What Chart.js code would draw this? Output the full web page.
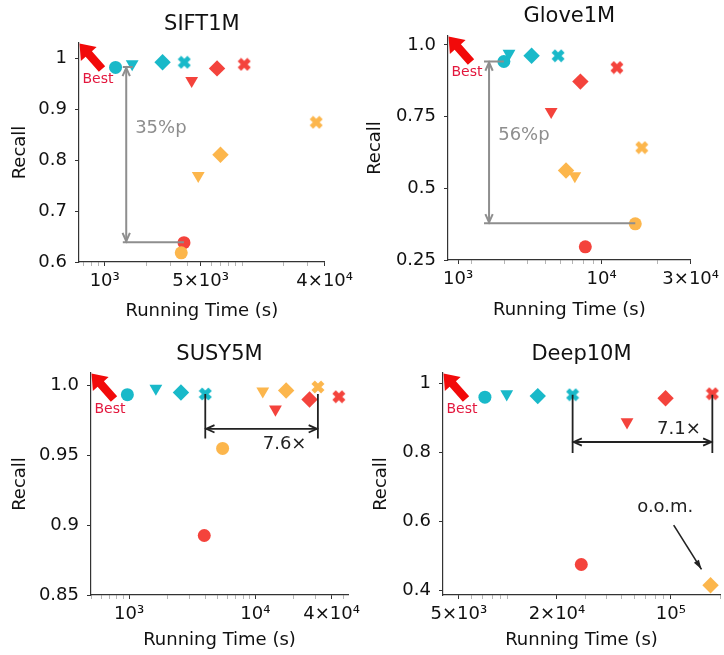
<!DOCTYPE html>
<html>
<head>
<meta charset="utf-8">
<script src="https://cdn.jsdelivr.net/npm/chart.js@4.4.1/dist/chart.umd.min.js"></script>
<style>
html, body { margin:0; padding:0; background:#fff; overflow:hidden; }
#wrap { position:relative; width:724px; height:655px; overflow:hidden; }
#wrap canvas { position:absolute; }
</style>
</head>
<body>
<div id="wrap">
  <canvas id="c1"></canvas>
  <canvas id="c2"></canvas>
  <canvas id="c3"></canvas>
  <canvas id="c4"></canvas>
</div>
<script>
/* ====== data ====== */
// series order: cyan, red, orange / point order: circle, triangle, diamond, X
const colors = ['#19b9c9', '#f4433c', '#fcb64c'];
const shapes = ['circle', 'triangle', 'diamond', 'x'];

const siftTime    = [[1200, 1585, 2640, 3800], [3780, 4300, 6580, 10380], [3610, 4800, 6970, 34700]];
const siftRecall  = [[0.983, 0.990, 0.993, 0.993], [0.638, 0.957, 0.981, 0.989], [0.618, 0.770, 0.811, 0.875]];
const gloveTime   = [[2990, 3185, 4210, 5840], [8170, 5360, 7690, 12070], [15140, 7180, 6440, 16400]];
const gloveRecall = [[0.942, 0.970, 0.962, 0.962], [0.296, 0.767, 0.872, 0.921], [0.376, 0.543, 0.562, 0.642]];
const susyTime    = [[970, 1630, 2575, 4010], [3936, 14400, 26800, 45700], [5500, 11430, 17500, 31200]];
const susyRecall  = [[0.9935, 0.998, 0.995, 0.994], [0.8926, 0.983, 0.990, 0.992], [0.955, 0.996, 0.9965, 0.999]];
const deepTime    = [[7230, 9840, 15250, 24950], [28200, 53800, 92700, 179500], [null, null, 175000, null]];
const deepRecall  = [[0.961, 0.970, 0.964, 0.968], [0.476, 0.889, 0.958, 0.971], [null, null, 0.416, null]];

// x ticks (all) and labelled ones
const siftXTicks   = [700, 800, 900, 1000, 2000, 3000, 4000, 5000, 6000, 7000, 8000, 9000, 10000, 20000, 30000, 40000];
const siftXMajor   = [1000, 5000, 40000];
const siftXLabels  = ['10³', '5×10³', '4×10⁴'];
const gloveXTicks  = [1700, 2000, 3000, 4000, 5000, 6000, 7000, 8000, 9000, 10000, 20000, 30000];
const gloveXMajor  = [1700, 10000, 30000];
const gloveXLabels = ['10³', '10⁴', '3×10⁴'];
const susyXTicks   = [500, 600, 700, 800, 900, 1000, 2000, 3000, 4000, 5000, 6000, 7000, 8000, 9000, 10000, 20000, 30000, 40000, 50000];
const susyXMajor   = [1000, 10000, 40000];
const susyXLabels  = ['10³', '10⁴', '4×10⁴'];
const deepXTicks   = [5000, 6000, 7000, 8000, 9000, 10000, 20000, 30000, 40000, 50000, 60000, 70000, 80000, 90000, 100000, 200000];
const deepXMajor   = [5000, 20000, 100000];
const deepXLabels  = ['5×10³', '2×10⁴', '10⁵'];

// y ticks
const siftYTicks  = [0.6, 0.7, 0.8, 0.9, 1.0];
const siftYLabels = ['0.6', '0.7', '0.8', '0.9', '1'];
const gloveYTicks  = [0.25, 0.5, 0.75, 1.0];
const gloveYLabels = ['0.25', '0.5', '0.75', '1.0'];
const susyYTicks  = [0.85, 0.9, 0.95, 1.0];
const susyYLabels = ['0.85', '0.9', '0.95', '1.0'];
const deepYTicks  = [0.4, 0.6, 0.8, 1.0];
const deepYLabels = ['0.4', '0.6', '0.8', '1'];

// annotations (data coords)
const siftGap  = { x: 1435, xFrom: 1355, top: 0.984, topTo: 1600, bottom: 0.639, bottomTo: 3780, text: '35%p', tx: 2566, ty: 0.863 };
const gloveGap = { x: 2490, xFrom: 2340, top: 0.942, topTo: 2990, bottom: 0.378, bottomTo: 15140, text: '56%p', tx: 3830, ty: 0.686 };
const susySpeed = { x0: 4010, x1: 31200, yTop: 0.994, yBot: 0.962, yArrow: 0.969, text: '7.6×', tx: 17000, ty: 0.958 };
const deepSpeed = { x0: 24950, x1: 179500, yTop: 0.968, yBot: 0.799, yArrow: 0.831, text: '7.1×', tx: 112000, ty: 0.867 };
const deepOom   = { text: 'o.o.m.', tx: 92300, ty: 0.642, x0: 104000, y0: 0.59, x1: 154000, y1: 0.462 };

/* ====== helpers ====== */
Chart.defaults.font.family = '"DejaVu Sans", sans-serif';
Chart.defaults.color = '#111';

function xMarker(color) {
  const c = document.createElement('canvas');
  c.width = 14; c.height = 14;
  const g = c.getContext('2d');
  g.strokeStyle = color; g.lineWidth = 4.8; g.lineCap = 'butt';
  g.beginPath(); g.moveTo(2.2, 2.2); g.lineTo(11.8, 11.8); g.moveTo(11.8, 2.2); g.lineTo(2.2, 11.8); g.stroke();
  return c;
}
const xImgs = colors.map(xMarker);

function buildDatasets(times, recalls) {
  return times.map((row, si) => {
    const pts = [];
    row.forEach((t, pi) => { if (t != null) pts.push({ x: t, y: recalls[si][pi], s: shapes[pi] }); });
    return {
      label: 'series' + si,
      data: pts,
      order: 2 - si,
      backgroundColor: colors[si],
      borderColor: colors[si],
      borderWidth: 0,
      pointStyle: c => { const s = c.raw && c.raw.s; return s === 'x' ? xImgs[si] : s === 'diamond' ? 'rectRot' : s; },
      rotation: c => (c.raw && c.raw.s === 'triangle') ? 180 : 0,
      pointRadius: c => { const s = c.raw && c.raw.s; return s === 'circle' ? 6.5 : s === 'diamond' ? 8.2 : 7.4; },
      pointHoverRadius: 8
    };
  });
}

function openHead(g, x, y, ang, len) {
  g.beginPath();
  g.moveTo(x + len * Math.cos(ang + 0.42), y + len * Math.sin(ang + 0.42));
  g.lineTo(x, y);
  g.lineTo(x + len * Math.cos(ang - 0.42), y + len * Math.sin(ang - 0.42));
  g.stroke();
}

function bestArrow(chart) {
  const g = chart.ctx, a = chart.chartArea;
  const tip = { x: a.left + 0.5, y: a.top + 0.5 }, tail = { x: a.left + 23, y: a.top + 26 };
  const dx = tip.x - tail.x, dy = tip.y - tail.y, L = Math.hypot(dx, dy);
  const ux = dx / L, uy = dy / L, nx = -uy, ny = ux;
  const sw = 4.2, hw = 10.5, hl = 14;
  const nk = { x: tip.x - ux * hl, y: tip.y - uy * hl };
  g.save();
  g.fillStyle = '#f20a0a';
  g.beginPath();
  g.moveTo(tail.x + nx * sw, tail.y + ny * sw);
  g.lineTo(nk.x + nx * sw, nk.y + ny * sw);
  g.lineTo(nk.x + nx * hw, nk.y + ny * hw);
  g.lineTo(tip.x, tip.y);
  g.lineTo(nk.x - nx * hw, nk.y - ny * hw);
  g.lineTo(nk.x - nx * sw, nk.y - ny * sw);
  g.lineTo(tail.x - nx * sw, tail.y - ny * sw);
  g.closePath(); g.fill();
  g.fillStyle = '#e3173d';
  g.font = '14px "DejaVu Sans"';
  g.textAlign = 'center'; g.textBaseline = 'middle';
  g.fillText('Best', a.left + 19, a.top + 36);
  g.restore();
}

function gapAnno(gap) {
  return (chart) => {
    const g = chart.ctx, xs = chart.scales.x, ys = chart.scales.y;
    const X = xs.getPixelForValue(gap.x), X0 = xs.getPixelForValue(gap.xFrom);
    const Yt = ys.getPixelForValue(gap.top), Yb = ys.getPixelForValue(gap.bottom);
    g.save();
    g.strokeStyle = '#8e8e8e'; g.lineWidth = 2;
    g.beginPath();
    g.moveTo(X0, Yt); g.lineTo(xs.getPixelForValue(gap.topTo), Yt);
    g.moveTo(X0, Yb); g.lineTo(xs.getPixelForValue(gap.bottomTo), Yb);
    g.moveTo(X, Yt + 1); g.lineTo(X, Yb - 1);
    g.stroke();
    openHead(g, X, Yt + 1, Math.PI / 2, 9);
    openHead(g, X, Yb - 1, -Math.PI / 2, 9);
    g.fillStyle = '#8e8e8e';
    g.font = '18px "DejaVu Sans"';
    g.textAlign = 'center'; g.textBaseline = 'middle';
    g.fillText(gap.text, xs.getPixelForValue(gap.tx), ys.getPixelForValue(gap.ty));
    g.restore();
  };
}

function speedAnno(sp, oom) {
  return (chart) => {
    const g = chart.ctx, xs = chart.scales.x, ys = chart.scales.y;
    const X0 = xs.getPixelForValue(sp.x0), X1 = xs.getPixelForValue(sp.x1);
    const Yt = ys.getPixelForValue(sp.yTop), Yb = ys.getPixelForValue(sp.yBot), Ya = ys.getPixelForValue(sp.yArrow);
    g.save();
    g.strokeStyle = '#222'; g.lineWidth = 1.8;
    g.beginPath();
    g.moveTo(X0, Yt); g.lineTo(X0, Yb);
    g.moveTo(X1, Yt); g.lineTo(X1, Yb);
    g.moveTo(X0 + 1, Ya); g.lineTo(X1 - 1, Ya);
    g.stroke();
    openHead(g, X0 + 1, Ya, 0, 9);
    openHead(g, X1 - 1, Ya, Math.PI, 9);
    g.fillStyle = '#222';
    g.font = '18px "DejaVu Sans"';
    g.textAlign = 'center'; g.textBaseline = 'middle';
    g.fillText(sp.text, xs.getPixelForValue(sp.tx), ys.getPixelForValue(sp.ty));
    if (oom) {
      g.fillText(oom.text, xs.getPixelForValue(oom.tx), ys.getPixelForValue(oom.ty));
      const ax = xs.getPixelForValue(oom.x0), ay = ys.getPixelForValue(oom.y0);
      const bx = xs.getPixelForValue(oom.x1), by = ys.getPixelForValue(oom.y1);
      g.lineWidth = 1.6;
      g.beginPath(); g.moveTo(ax, ay); g.lineTo(bx, by); g.stroke();
      const ang = Math.atan2(ay - by, ax - bx);
      g.beginPath();
      g.moveTo(bx, by);
      g.lineTo(bx + 10 * Math.cos(ang + 0.3), by + 10 * Math.sin(ang + 0.3));
      g.lineTo(bx + 10 * Math.cos(ang - 0.3), by + 10 * Math.sin(ang - 0.3));
      g.closePath(); g.fill();
    }
    g.restore();
  };
}

/* ====== panel builder ====== */
function makePanel(id, p) {
  const canvas = document.getElementById(id);
  const W = p.R - p.a + p.padR;
  canvas.width = W; canvas.height = p.H;
  canvas.style.left = p.a + 'px'; canvas.style.top = p.top + 'px';
  const tPadTop = p.titleY - p.top - 12.6;
  const tPadBot = (p.T - p.top) - tPadTop - 25.2;

  new Chart(canvas.getContext('2d'), {
    type: 'scatter',
    data: { datasets: buildDatasets(p.times, p.recalls) },
    options: {
      responsive: false,
      animation: false,
      layout: { padding: { left: 0, right: p.padR, top: 0, bottom: 0 } },
      scales: {
        x: {
          type: 'logarithmic',
          min: p.xmin, max: p.xmax,
          afterBuildTicks: s => { s.ticks = p.xTicks.map(v => ({ value: v })); },
          afterFit: s => { s.height = p.top + p.H - p.B; },
          ticks: {
            autoSkip: false, maxRotation: 0, padding: 5, color: '#111',
            font: { size: 18 },
            callback: v => { const i = p.xMajor.indexOf(v); return i >= 0 ? p.xLabels[i] : ''; }
          },
          grid: {
            drawOnChartArea: false, drawTicks: true, tickLength: 4,
            tickColor: c => (c.tick && p.xMajor.includes(c.tick.value)) ? '#333' : '#b5b5b5'
          },
          border: { display: true, color: '#333', width: 1.2 },
          title: { display: true, text: 'Running Time (s)', font: { size: 18 }, color: '#111', padding: { top: 0, bottom: p.xTitlePad } }
        },
        y: {
          min: p.ymin, max: p.ymax,
          afterBuildTicks: s => { s.ticks = p.yTicks.map(v => ({ value: v })); },
          afterFit: s => { s.width = p.L - p.a; },
          ticks: {
            padding: 8, color: '#111', font: { size: 18 },
            callback: v => { const i = p.yTicks.findIndex(t => Math.abs(t - v) < 1e-9); return i >= 0 ? p.yLabels[i] : ''; }
          },
          grid: { drawOnChartArea: false, drawTicks: true, tickLength: 4, tickColor: '#333' },
          border: { display: true, color: '#333', width: 1.2 },
          title: { display: true, text: 'Recall', font: { size: 18 }, color: '#111', padding: { top: p.ylabX - p.a - 10.8, bottom: 0 } }
        }
      },
      plugins: {
        legend: { display: false },
        tooltip: { enabled: false },
        title: {
          display: true, text: p.title, color: '#111', fullSize: false,
          font: { size: 21, weight: 'normal' },
          padding: { top: tPadTop, bottom: tPadBot }
        }
      }
    },
    plugins: [{
      id: 'anno' + id,
      afterDatasetsDraw: chart => { p.anno(chart); bestArrow(chart); }
    }]
  });
}

makePanel('c1', {
  title: 'SIFT1M', a: 0, top: 0, H: 330, L: 79, R: 328, T: 43, B: 262, padR: 30, titleY: 25, ylabX: 20, xTitlePad: 7.5,
  xmin: 650, xmax: 40000, ymin: 0.6, ymax: 1.031,
  times: siftTime, recalls: siftRecall,
  xTicks: siftXTicks, xMajor: siftXMajor, xLabels: siftXLabels,
  yTicks: siftYTicks, yLabels: siftYLabels,
  anno: gapAnno(siftGap)
});
makePanel('c2', {
  title: 'Glove1M', a: 362, top: 0, H: 330, L: 448, R: 691, T: 36, B: 260, padR: 33, titleY: 16.7, ylabX: 375, xTitlePad: 9,
  xmin: 1500, xmax: 30000, ymin: 0.25, ymax: 1.031,
  times: gloveTime, recalls: gloveRecall,
  xTicks: gloveXTicks, xMajor: gloveXMajor, xLabels: gloveXLabels,
  yTicks: gloveYTicks, yLabels: gloveYLabels,
  anno: gapAnno(gloveGap)
});
makePanel('c3', {
  title: 'SUSY5M', a: 0, top: 330, H: 325, L: 91, R: 348, T: 373, B: 595, padR: 16, titleY: 355, ylabX: 20, xTitlePad: 4.2,
  xmin: 500, xmax: 54000, ymin: 0.85, ymax: 1.009,
  times: susyTime, recalls: susyRecall,
  xTicks: susyXTicks, xMajor: susyXMajor, xLabels: susyXLabels,
  yTicks: susyYTicks, yLabels: susyYLabels,
  anno: speedAnno(susySpeed, null)
});
makePanel('c4', {
  title: 'Deep10M', a: 362, top: 330, H: 325, L: 443, R: 720, T: 373, B: 595, padR: 14, titleY: 355, ylabX: 381, xTitlePad: 4.2,
  xmin: 4000, xmax: 200000, ymin: 0.3876, ymax: 1.031,
  times: deepTime, recalls: deepRecall,
  xTicks: deepXTicks, xMajor: deepXMajor, xLabels: deepXLabels,
  yTicks: deepYTicks, yLabels: deepYLabels,
  anno: speedAnno(deepSpeed, deepOom)
});
</script>
</body>
</html>
